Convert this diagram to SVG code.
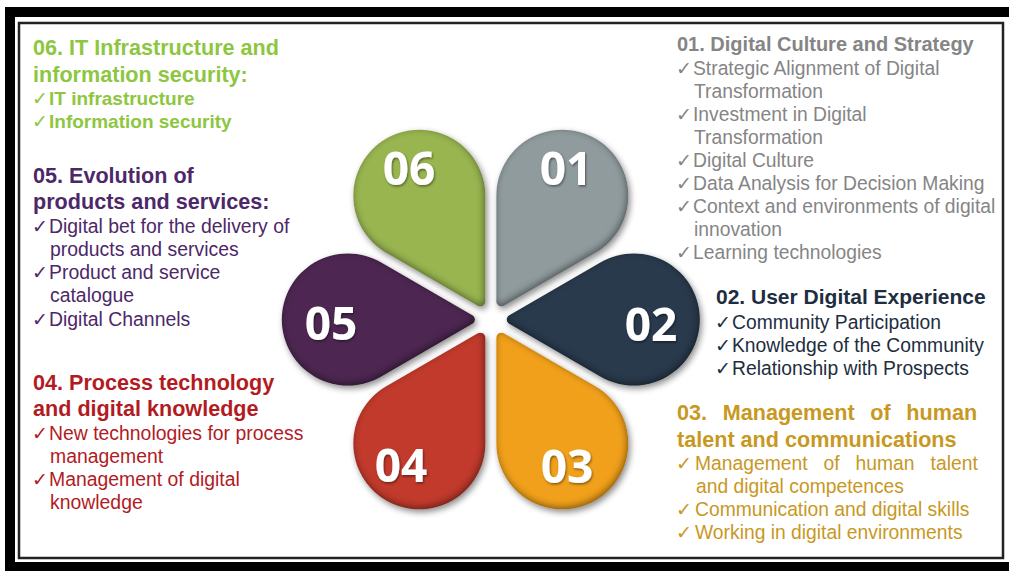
<svg xmlns="http://www.w3.org/2000/svg" width="1009" height="571" viewBox="0 0 1009 571">
<defs>
<style>
.h{font-family:"Liberation Sans",Arial,sans-serif;font-weight:700}
.i{font-family:"Liberation Sans",Arial,sans-serif}
.ck{font-family:"DejaVu Sans",sans-serif;font-size:19px}
.num{font-family:"Open Sans",sans-serif;font-weight:700;font-size:46px;fill:#fff;text-anchor:middle}
.g{fill:#8dc63f}
.p{fill:#4c2869}
.r{fill:#b21b1f}
.gr{fill:#858585}
.n{fill:#1e2d40}
.o{fill:#c8981f}
</style>
<path id="petal" d="M 18.5 -4.33 L 110 -57.16 A 66 66 0 1 1 110 57.16 L 18.5 4.33 A 5 5 0 0 1 18.5 -4.33 Z"/>
<filter id="bevel" x="-20%" y="-20%" width="140%" height="140%" color-interpolation-filters="sRGB">
<feGaussianBlur in="SourceAlpha" stdDeviation="3" result="b"/>
<feOffset in="b" dx="2" dy="3" result="ob"/>
<feFlood flood-color="#000" flood-opacity="0.45"/>
<feComposite in2="ob" operator="in" result="shadow"/>
<feGaussianBlur in="SourceAlpha" stdDeviation="3.5" result="b2"/>
<feOffset in="b2" dx="-1.5" dy="-2" result="ob2"/>
<feComposite in="SourceAlpha" in2="ob2" operator="arithmetic" k2="1" k3="-1" result="edge"/>
<feFlood flood-color="#000" flood-opacity="0.45"/>
<feComposite in2="edge" operator="in" result="inner"/>
<feMerge><feMergeNode in="shadow"/><feMergeNode in="SourceGraphic"/><feMergeNode in="inner"/></feMerge>
</filter>
<filter id="ts" x="-20%" y="-20%" width="140%" height="140%">
<feDropShadow dx="1" dy="1.5" stdDeviation="1" flood-color="#000" flood-opacity="0.45"/>
</filter>
</defs>

<rect x="0" y="0" width="1009" height="571" fill="#fff"/>
<rect x="5" y="7" width="1004" height="564" fill="#000"/>
<rect x="15" y="17" width="994" height="545" fill="#fff"/>
<rect x="19" y="23" width="984" height="535" fill="none" stroke="#222" stroke-width="2.5"/>

<g id="node-01">
<g filter="url(#bevel)"><use href="#petal" fill="#8f9b9d" transform="translate(490.8,319.5) rotate(-60)"/></g>
<text class="num" x="566" y="185" filter="url(#ts)">01</text>
</g>
<g id="node-02">
<g filter="url(#bevel)"><use href="#petal" fill="#293a4c" transform="translate(490.8,319.5)"/></g>
<text class="num" x="651" y="341" filter="url(#ts)">02</text>
</g>
<g id="node-03">
<g filter="url(#bevel)"><use href="#petal" fill="#f0a01a" transform="translate(490.8,319.5) rotate(60)"/></g>
<text class="num" x="567" y="483" filter="url(#ts)">03</text>
</g>
<g id="node-04">
<g filter="url(#bevel)"><use href="#petal" fill="#c13a2c" transform="translate(490.8,319.5) rotate(120)"/></g>
<text class="num" x="401" y="482" filter="url(#ts)">04</text>
</g>
<g id="node-05">
<g filter="url(#bevel)"><use href="#petal" fill="#4d2751" transform="translate(490.8,319.5) rotate(180)"/></g>
<text class="num" x="331" y="340" filter="url(#ts)">05</text>
</g>
<g id="node-06">
<g filter="url(#bevel)"><use href="#petal" fill="#98b550" transform="translate(490.8,319.5) rotate(-120)"/></g>
<text class="num" x="409" y="185" filter="url(#ts)">06</text>
</g>

<g id="text-06" class="g">
<text class="h" font-size="21.6" x="33" y="55">06. IT Infrastructure and</text>
<text class="h" font-size="21.6" x="33" y="82">information security:</text>
<text class="ck" x="32" y="105">✓</text><text class="h" font-size="19" x="49" y="105">IT infrastructure</text>
<text class="ck" x="32" y="128">✓</text><text class="h" font-size="19" x="49" y="128">Information security</text>
</g>

<g id="text-05" class="p">
<text class="h" font-size="21.6" x="33" y="183">05. Evolution of</text>
<text class="h" font-size="21.6" x="33" y="209">products and services:</text>
<text class="ck" x="32" y="233">✓</text><text class="i" font-size="19.4" x="49" y="233">Digital bet for the delivery of</text>
<text class="i" font-size="19.4" x="50" y="256">products and services</text>
<text class="ck" x="32" y="279">✓</text><text class="i" font-size="19.4" x="49" y="279">Product and service</text>
<text class="i" font-size="19.4" x="50" y="302">catalogue</text>
<text class="ck" x="32" y="326">✓</text><text class="i" font-size="19.4" x="49" y="326">Digital Channels</text>
</g>

<g id="text-04" class="r">
<text class="h" font-size="21.6" x="33" y="390">04. Process technology</text>
<text class="h" font-size="21.6" x="33" y="416">and digital knowledge</text>
<text class="ck" x="32" y="440">✓</text><text class="i" font-size="19.4" x="49" y="440">New technologies for process</text>
<text class="i" font-size="19.4" x="50" y="463">management</text>
<text class="ck" x="32" y="486">✓</text><text class="i" font-size="19.4" x="49" y="486">Management of digital</text>
<text class="i" font-size="19.4" x="50" y="509">knowledge</text>
</g>

<g id="text-01" class="gr">
<text class="h" font-size="20" x="677" y="51">01. Digital Culture and Strategy</text>
<text class="ck" x="676" y="75">✓</text><text class="i" font-size="19.3" x="693" y="75">Strategic Alignment of Digital</text>
<text class="i" font-size="19.3" x="694" y="98">Transformation</text>
<text class="ck" x="676" y="121">✓</text><text class="i" font-size="19.3" x="693" y="121">Investment in Digital</text>
<text class="i" font-size="19.3" x="694" y="144">Transformation</text>
<text class="ck" x="676" y="167">✓</text><text class="i" font-size="19.3" x="693" y="167">Digital Culture</text>
<text class="ck" x="676" y="190">✓</text><text class="i" font-size="19.3" x="693" y="190">Data Analysis for Decision Making</text>
<text class="ck" x="676" y="213">✓</text><text class="i" font-size="19.3" x="693" y="213">Context and environments of digital</text>
<text class="i" font-size="19.3" x="694" y="236">innovation</text>
<text class="ck" x="676" y="259">✓</text><text class="i" font-size="19.3" x="693" y="259">Learning technologies</text>
</g>

<g id="text-02" class="n">
<text class="h" font-size="21" x="716" y="304">02. User Digital Experience</text>
<text class="ck" x="715" y="329">✓</text><text class="i" font-size="19.3" x="732" y="329">Community Participation</text>
<text class="ck" x="715" y="352">✓</text><text class="i" font-size="19.3" x="732" y="352">Knowledge of the Community</text>
<text class="ck" x="715" y="375">✓</text><text class="i" font-size="19.3" x="732" y="375">Relationship with Prospects</text>
</g>

<g id="text-03" class="o">
<text class="h" font-size="21.6" y="420"><tspan x="677">03.</tspan><tspan x="722.7">Management</tspan><tspan x="870.2">of</tspan><tspan x="906.3">human</tspan></text>
<text class="h" font-size="21.6" x="677" y="447">talent and communications</text>
<text class="ck" x="676" y="470">✓</text><text class="i" font-size="19.3" y="470"><tspan x="695">Management</tspan><tspan x="823.6">of</tspan><tspan x="855.6">human</tspan><tspan x="930.6">talent</tspan></text>
<text class="i" font-size="19.3" x="696" y="493">and digital competences</text>
<text class="ck" x="676" y="516">✓</text><text class="i" font-size="19.3" x="695" y="516">Communication and digital skills</text>
<text class="ck" x="676" y="539">✓</text><text class="i" font-size="19.3" x="695" y="539">Working in digital environments</text>
</g>
</svg>
